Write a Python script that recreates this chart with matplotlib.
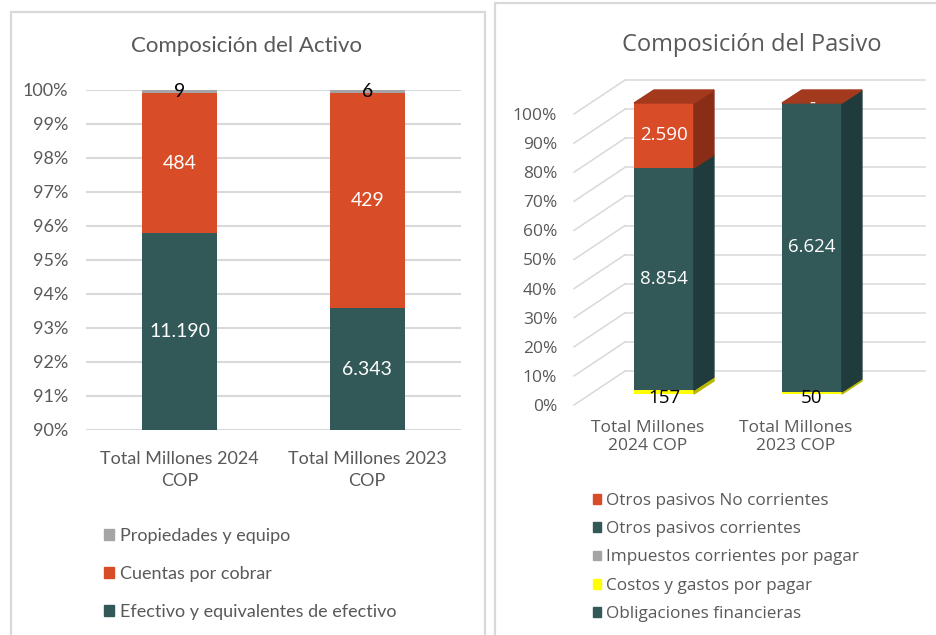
import matplotlib
matplotlib.use('Agg')
import matplotlib.pyplot as plt
from matplotlib.patches import Patch, Polygon, Rectangle

# --- data (millones COP) ---
years = ['2024', '2023']

# Composicion del Activo
activo_labels = ['Efectivo y equivalentes de efectivo', 'Cuentas por cobrar', 'Propiedades y equipo']
efectivo = [11190, 6343]
cuentas = [484, 429]
propiedades = [9, 6]
activo_xticks = ['Total Millones 2024\nCOP', 'Total Millones 2023\nCOP']

# Composicion del Pasivo
pasivo_labels = ['Obligaciones financieras', 'Costos y gastos por pagar',
	'Impuestos corrientes por pagar', 'Otros pasivos corrientes', 'Otros pasivos No corrientes']
obligaciones = [0, 0]
costos = [157, 50]
impuestos = [0, 0]
corrientes = [8854, 6624]
no_corrientes = [2590, 0]
pasivo_xticks = ['Total Millones\n2024 COP', 'Total Millones\n2023 COP']

TEAL = '#325858'
ORANGE = '#D84C28'
GREY = '#A5A5A5'
YELLOW = '#FFFF00'
TXT = '#595959'
GRID = '#D9D9D9'

W, H = 937, 635

def px_rect(x0, y0, x1, y1):
	return [x0/W, 1-y1/H, (x1-x0)/W, (y1-y0)/H]

def fmt(v):
	if v == 0:
		return '-'
	return '{:,}'.format(v).replace(',', '.')

fig = plt.figure(figsize=(W/100, H/100), dpi=100)

# panel borders
fig.patches.append(Rectangle((11/W, -0.05), (485-11)/W, 1.05-12/H, transform=fig.transFigure,
	fill=False, edgecolor=GRID, linewidth=1.6))
fig.patches.append(Rectangle((495/W, -0.05), 0.5, 1.05-3/H, transform=fig.transFigure,
	fill=False, edgecolor=GRID, linewidth=1.6))

# ---------------- left: activo ----------------
ax = fig.add_axes(px_rect(86, 90, 461, 430))
ymin = 90
series = [efectivo, cuentas, propiedades]
colors = [TEAL, ORANGE, GREY]
lblcol = ['white', 'white', 'black']
x = list(range(len(years)))
totals = [sum(s[i] for s in series) for i in x]
bottom = [0.0, 0.0]
for s, c, lc in zip(series, colors, lblcol):
	pct = [s[i]/totals[i]*100 for i in x]
	ax.bar(x, pct, width=0.4, bottom=bottom, color=c, zorder=3)
	for i in x:
		# label at the middle of the visible part
		yc = (max(bottom[i], ymin) + bottom[i] + pct[i])/2
		ax.text(i, yc, fmt(s[i]), ha='center', va='center', color=lc,
			fontsize=14, family='Lato', zorder=5, clip_on=False)
	bottom = [bottom[i]+pct[i] for i in x]

ax.set_ylim(ymin, 100)
ax.set_xlim(-0.5, 1.5)
ax.set_yticks(range(90, 101))
ax.set_yticklabels(['%d%%' % v for v in range(90, 101)], family='Lato', fontsize=13, color=TXT)
ax.set_xticks(x)
ax.set_xticklabels(activo_xticks, family='Lato', fontsize=13, color=TXT, linespacing=1.5)
ax.tick_params(length=0)
ax.tick_params(axis='y', pad=13)
ax.tick_params(axis='x', pad=15)
ax.yaxis.grid(True, color=GRID, linewidth=1.5, zorder=0)
ax.set_axisbelow(True)
for sp in ax.spines.values():
	sp.set_visible(False)
fig.text(247/W, 1-46/H, 'Composición del Activo', ha='center', va='center',
	fontsize=16, family='Lato', color=TXT)

hand = [Patch(color=c) for c in colors][::-1]
fig.legend(hand, activo_labels[::-1], loc='upper left', bbox_to_anchor=(97/W, 1-521/H),
	frameon=False, prop={'family': 'Lato', 'size': 13}, labelcolor=TXT,
	handlelength=0.55, handleheight=0.55, handletextpad=0.3, labelspacing=1.2, borderaxespad=0)

# ---------------- right: pasivo (3D look) ----------------
ax2 = fig.add_axes(px_rect(560, 70, 930, 410))
ax2.set_xlim(-0.7027, 1.7973)
ax2.set_ylim(-1.718, 115.12)

bw = 0.405          # bar width
oy = 3.78           # bar front offset above front plane
ox = 0.108          # bar front offset right of front plane
ddx, ddy = 0.135, 4.47   # bar depth
Dx, Dy = 0.345, 11.68    # floor depth
x_front = -0.608
x_right = 1.764

# wall gridlines
for p in range(0, 101, 10):
	ax2.plot([x_front, x_front+Dx], [p, p+Dy], color=GRID, linewidth=1.1, zorder=1)
	ax2.plot([x_front+Dx, x_right], [p+Dy, p+Dy], color=GRID, linewidth=1.1, zorder=1)

pseries = [obligaciones, costos, impuestos, corrientes, no_corrientes]
pcolors = [TEAL, YELLOW, GREY, TEAL, ORANGE]
pside = ['#1F3B3B', '#B8B800', '#7A7A7A', '#1F3B3B', '#8A2D17']
plbl = ['white', 'black', 'black', 'white', 'white']
ptotals = [sum(s[i] for s in pseries) for i in x]
bottom = [0.0, 0.0]
for k, (s, c, sc, lc) in enumerate(zip(pseries, pcolors, pside, plbl)):
	pct = [s[i]/ptotals[i]*100 for i in x]
	ax2.bar(x, pct, width=bw, bottom=[b+oy for b in bottom], color=c, zorder=3)
	for i in x:
		b0 = bottom[i] + oy
		b1 = b0 + pct[i]
		xr = i + bw/2
		if pct[i] > 0:
			ax2.add_patch(Polygon([(xr, b0), (xr+ddx, b0+ddy), (xr+ddx, b1+ddy), (xr, b1)],
				closed=True, color=sc, zorder=3))
		if s[i] != 0 or k == len(pseries)-1:
			yc = (b0 + b1)/2
			if k == 1:
				yc = b0 - 1.3
			ax2.text(i, yc, fmt(s[i]), ha='center', va='center', color=lc,
				fontsize=13.5, family='Open Sans', zorder=5)
	bottom = [bottom[i]+pct[i] for i in x]

for i in x:
	top = 100 + oy
	ax2.add_patch(Polygon([(i-bw/2, top), (i+bw/2, top), (i+bw/2+ddx, top+ddy), (i-bw/2+ddx, top+ddy)],
		closed=True, color='#A3391D', zorder=3))

ax2.set_yticks(range(0, 101, 10))
ax2.set_yticklabels(['%d%%' % v for v in range(0, 101, 10)], family='Open Sans', fontsize=12.5, color=TXT)
ax2.set_xticks([i-ox for i in x])
ax2.set_xticklabels(pasivo_xticks, family='Open Sans', fontsize=12.5, color=TXT, linespacing=1.2)
ax2.tick_params(length=0)
ax2.tick_params(axis='y', pad=2)
ax2.tick_params(axis='x', pad=7)
for sp in ax2.spines.values():
	sp.set_visible(False)
fig.text(752/W, 1-45/H, 'Composición del Pasivo', ha='center', va='center',
	fontsize=17, family='Open Sans', color=TXT)

hand2 = [Patch(color=c) for c in pcolors][::-1]
fig.legend(hand2, pasivo_labels[::-1], loc='upper left', bbox_to_anchor=(586/W, 1-486/H),
	frameon=False, prop={'family': 'Open Sans', 'size': 12.3}, labelcolor=TXT,
	handlelength=0.5, handleheight=0.5, handletextpad=0.3, labelspacing=0.72, borderaxespad=0)

plt.savefig('out.png', dpi=100)
plt.close()
